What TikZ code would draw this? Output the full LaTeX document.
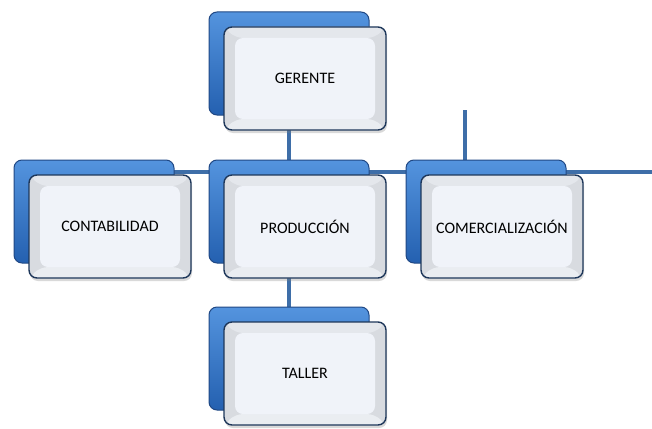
\documentclass[tikz,border=0pt]{standalone}
\usepackage{fontspec}
\setmainfont{Carlito}
\usepackage{tikz}
\usetikzlibrary{positioning,shadows,backgrounds,calc}

\definecolor{linkblue}{RGB}{62,110,168}
\definecolor{boxtop}{RGB}{84,148,222}
\definecolor{boxbot}{RGB}{36,96,176}
\definecolor{boxedge}{RGB}{32,72,132}
\definecolor{cardedge}{RGB}{30,55,90}
\definecolor{cardin}{RGB}{240,243,249}
\definecolor{cardtop}{RGB}{228,231,236}
\definecolor{cardside}{RGB}{216,219,224}
\definecolor{cardbot}{RGB}{234,237,241}

\begin{document}
\begin{tikzpicture}[
    x=1pt, y=-1pt,
    font=\fontsize{16}{19}\selectfont,
    back/.style ={rectangle, rounded corners=8pt, minimum width=160pt, minimum height=103pt,
                  inner sep=0pt, top color=boxtop, bottom color=boxbot, draw=boxedge, line width=1pt},
    card/.style ={rectangle, rounded corners=8pt, minimum width=162pt, minimum height=103pt,
                  inner sep=0pt, draw=cardedge, line width=1.4pt, fill=cardin,
                  drop shadow={opacity=0.3, shadow xshift=1pt, shadow yshift=-3pt},
                  path picture={
                    \path (path picture bounding box.south west) coordinate (pp_sw)
                          (path picture bounding box.north east) coordinate (pp_ne);
                    \path ([shift={(11pt,11pt)}]pp_sw) coordinate (pi_sw)
                          ([shift={(-11pt,-11pt)}]pp_ne) coordinate (pi_ne);
                    \fill[cardside] (pp_sw) rectangle (pp_ne);
                    \fill[cardtop] (pp_sw |- pp_ne) -- (pp_ne) -- (pi_ne) -- (pi_sw |- pi_ne) -- cycle;
                    \fill[cardbot] (pp_sw) -- (pp_ne |- pp_sw) -- (pi_ne |- pi_sw) -- (pi_sw) -- cycle;
                    \fill[cardin] (pi_sw) rectangle (pi_ne);
                  }},
    link/.style ={line width=3.5pt, linkblue}
]
\useasboundingbox (0,0) rectangle (652,428);

% top
\node[back] (ger_b) at (289,63.5) {};
\node[card] (ger) at ([shift={(16pt,-15pt)}]ger_b.center) {GERENTE};

% middle row
\node[back] (cont_b) at (94,211.5) {};
\node[card] (cont) at ([shift={(16pt,-15pt)}]cont_b.center) {CONTABILIDAD};

\node[back] (prod_b) at (289,211.5) {};
\node[card] (prod) at ([shift={(16pt,-15pt)}]prod_b.center) {PRODUCCIÓN};

\node[back] (com_b) at (486,211.5) {};
\node[card] (com) at ([shift={(16pt,-15pt)}]com_b.center) {COMERCIALIZACIÓN};

% bottom
\node[back] (tall_b) at (289,358.5) {};
\node[card] (tall) at ([shift={(16pt,-15pt)}]tall_b.center) {TALLER};

% connectors
\coordinate (bus_r) at (652,172);
\coordinate (stub_t) at (465,110);
\begin{scope}[on background layer]
\draw[link] (ger_b) -- (ger_b |- bus_r);
\draw[link] (cont_b |- bus_r) -- (bus_r);
\draw[link] (stub_t) -- (stub_t |- bus_r);
\draw[link] (prod_b) -- (tall_b);
\end{scope}

\end{tikzpicture}
\end{document}
